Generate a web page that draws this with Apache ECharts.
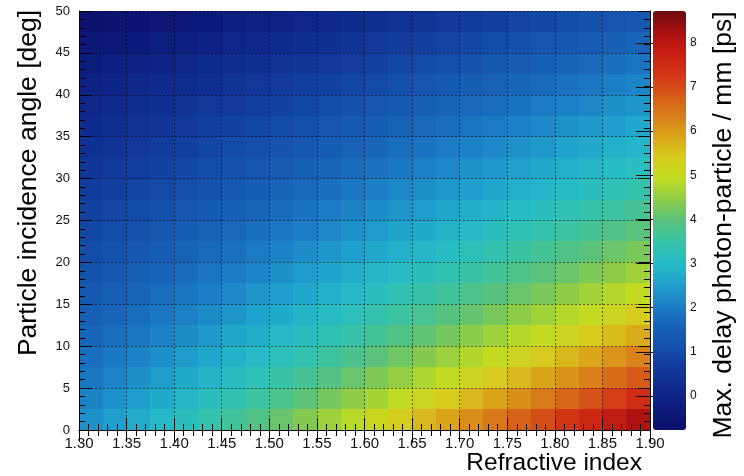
<!DOCTYPE html>
<html>
<head>
<meta charset="utf-8">
<script src="https://cdn.jsdelivr.net/npm/echarts@6/dist/echarts.min.js"></script>
<style>
  html, body { margin: 0; padding: 0; background: #fff; }
  #chart { width: 744px; height: 476px; }
</style>
</head>
<body>
<div id="chart"></div>
<script>
// Cell centres along the refractive-index axis (cells 0.025 wide)
const refractiveIndex = [
  1.3125, 1.3375, 1.3625, 1.3875, 1.4125, 1.4375, 1.4625, 1.4875,
  1.5125, 1.5375, 1.5625, 1.5875, 1.6125, 1.6375, 1.6625, 1.6875,
  1.7125, 1.7375, 1.7625, 1.7875, 1.8125, 1.8375, 1.8625, 1.8875
];

// Cell centres along the incidence-angle axis in degrees (cells 2.5 deg high)
const incidenceAngle = [
  1.25, 3.75, 6.25, 8.75, 11.25, 13.75, 16.25, 18.75, 21.25, 23.75,
  26.25, 28.75, 31.25, 33.75, 36.25, 38.75, 41.25, 43.75, 46.25, 48.75
];

// Max. photon-particle delay per mm [ps]; one row per incidence angle, bottom row first
const maxDelayPs = [
  [2.31, 2.52, 2.74, 2.96, 3.18, 3.41, 3.64, 3.87, 4.11, 4.36, 4.60, 4.85, 5.11, 5.36, 5.63, 5.89, 6.16, 6.43, 6.71, 6.99, 7.28, 7.56, 7.86, 8.15],
  [2.11, 2.31, 2.51, 2.71, 2.92, 3.13, 3.34, 3.56, 3.78, 4.00, 4.22, 4.45, 4.68, 4.92, 5.16, 5.40, 5.64, 5.89, 6.14, 6.39, 6.65, 6.91, 7.17, 7.44],
  [1.93, 2.12, 2.30, 2.49, 2.68, 2.87, 3.07, 3.27, 3.47, 3.68, 3.89, 4.10, 4.31, 4.52, 4.74, 4.96, 5.19, 5.41, 5.64, 5.87, 6.10, 6.34, 6.58, 6.82],
  [1.77, 1.94, 2.11, 2.28, 2.46, 2.64, 2.83, 3.01, 3.20, 3.39, 3.58, 3.77, 3.97, 4.17, 4.37, 4.57, 4.78, 4.99, 5.20, 5.41, 5.62, 5.84, 6.05, 6.27],
  [1.61, 1.77, 1.93, 2.10, 2.26, 2.43, 2.60, 2.77, 2.95, 3.12, 3.30, 3.48, 3.67, 3.85, 4.04, 4.22, 4.41, 4.60, 4.80, 4.99, 5.19, 5.39, 5.59, 5.79],
  [1.46, 1.61, 1.76, 1.92, 2.07, 2.23, 2.39, 2.55, 2.72, 2.88, 3.05, 3.22, 3.39, 3.56, 3.73, 3.91, 4.08, 4.26, 4.44, 4.62, 4.80, 4.99, 5.17, 5.36],
  [1.32, 1.46, 1.61, 1.75, 1.90, 2.04, 2.19, 2.35, 2.50, 2.65, 2.81, 2.97, 3.13, 3.29, 3.45, 3.61, 3.78, 3.94, 4.11, 4.28, 4.45, 4.62, 4.79, 4.97],
  [1.19, 1.32, 1.45, 1.59, 1.73, 1.87, 2.01, 2.15, 2.30, 2.44, 2.59, 2.74, 2.89, 3.04, 3.19, 3.34, 3.50, 3.65, 3.81, 3.97, 4.13, 4.29, 4.45, 4.61],
  [1.05, 1.18, 1.31, 1.44, 1.57, 1.70, 1.83, 1.97, 2.10, 2.24, 2.38, 2.52, 2.66, 2.80, 2.94, 3.09, 3.23, 3.38, 3.53, 3.68, 3.83, 3.98, 4.13, 4.28],
  [0.92, 1.04, 1.16, 1.29, 1.41, 1.53, 1.66, 1.79, 1.92, 2.05, 2.18, 2.31, 2.44, 2.58, 2.71, 2.85, 2.99, 3.13, 3.27, 3.41, 3.55, 3.69, 3.83, 3.97],
  [0.80, 0.91, 1.02, 1.14, 1.26, 1.37, 1.49, 1.61, 1.74, 1.86, 1.98, 2.11, 2.24, 2.36, 2.49, 2.62, 2.75, 2.88, 3.02, 3.15, 3.28, 3.42, 3.55, 3.69],
  [0.67, 0.77, 0.88, 0.99, 1.10, 1.21, 1.33, 1.44, 1.56, 1.68, 1.80, 1.92, 2.04, 2.16, 2.28, 2.40, 2.53, 2.65, 2.78, 2.90, 3.03, 3.16, 3.28, 3.41],
  [0.53, 0.63, 0.74, 0.84, 0.95, 1.06, 1.16, 1.27, 1.38, 1.50, 1.61, 1.72, 1.84, 1.95, 2.07, 2.19, 2.31, 2.42, 2.54, 2.66, 2.78, 2.91, 3.03, 3.15],
  [0.40, 0.49, 0.59, 0.69, 0.79, 0.89, 1.00, 1.10, 1.21, 1.32, 1.42, 1.53, 1.64, 1.75, 1.86, 1.98, 2.09, 2.20, 2.32, 2.43, 2.55, 2.66, 2.78, 2.89],
  [0.25, 0.34, 0.44, 0.53, 0.63, 0.73, 0.83, 0.93, 1.03, 1.13, 1.23, 1.34, 1.44, 1.55, 1.66, 1.76, 1.87, 1.98, 2.09, 2.20, 2.31, 2.42, 2.53, 2.64],
  [0.10, 0.19, 0.28, 0.37, 0.46, 0.56, 0.65, 0.75, 0.84, 0.94, 1.04, 1.14, 1.24, 1.34, 1.45, 1.55, 1.65, 1.76, 1.86, 1.97, 2.07, 2.18, 2.29, 2.39],
  [-0.06, 0.02, 0.11, 0.20, 0.28, 0.37, 0.47, 0.56, 0.65, 0.74, 0.84, 0.94, 1.03, 1.13, 1.23, 1.33, 1.43, 1.53, 1.63, 1.73, 1.83, 1.93, 2.04, 2.14],
  [-0.23, -0.15, -0.07, 0.01, 0.09, 0.18, 0.27, 0.36, 0.45, 0.54, 0.63, 0.72, 0.81, 0.91, 1.00, 1.10, 1.19, 1.29, 1.39, 1.48, 1.58, 1.68, 1.78, 1.88],
  [-0.42, -0.35, -0.27, -0.19, -0.11, -0.03, 0.06, 0.14, 0.23, 0.31, 0.40, 0.49, 0.58, 0.67, 0.76, 0.85, 0.95, 1.04, 1.13, 1.23, 1.32, 1.42, 1.51, 1.61],
  [-0.63, -0.56, -0.49, -0.41, -0.34, -0.26, -0.18, -0.10, -0.01, 0.07, 0.16, 0.24, 0.33, 0.41, 0.50, 0.59, 0.68, 0.77, 0.86, 0.95, 1.04, 1.14, 1.23, 1.32]
];

// Colour scale range [ps] and the labelled ticks of the palette axis
const delayRange = [-0.77, 8.72];
const delayTicks = [0, 1, 2, 3, 4, 5, 6, 7, 8];

// Palette, evenly spaced from the lowest to the highest delay
const paletteColors = [
  '#0b0f6a', '#0c1a7a', '#0e2a8c', '#113a9c', '#1550ac', '#1864b9', '#1c80c6',
  '#1fa2cc', '#26bcc6', '#38c3a6', '#5ac27a', '#8ecc48', '#c0dc22', '#d6cc1e',
  '#daa41a', '#d87e1a', '#d65a18', '#d23416', '#c81e12', '#a81010', '#6a0a0c'
];

const FONT = '"Liberation Sans", Arial, Helvetica, sans-serif';

const cells = [];
incidenceAngle.forEach((a, j) => {
  refractiveIndex.forEach((n, k) => cells.push([n, a, maxDelayPs[j][k]]));
});
const cellW = refractiveIndex[1] - refractiveIndex[0];
const cellH = incidenceAngle[1] - incidenceAngle[0];
const snap = v => Math.round(v * 1e6) / 1e6;

const tickCommon = {
  axisLine: { show: true, lineStyle: { color: '#000', width: 1 } },
  axisTick: { show: true, inside: true, length: 12, lineStyle: { color: '#000', width: 1 } },
  minorTick: { show: true, splitNumber: 5, length: 6, lineStyle: { color: '#000', width: 1 } },
  z: 5
};
const gridLine = { show: true, lineStyle: { type: [2, 2], color: 'rgba(0,0,0,0.55)', width: 1 } };

const chart = echarts.init(document.getElementById('chart'), null, { renderer: 'canvas' });
chart.setOption({
  animation: false,
  backgroundColor: '#fff',
  textStyle: { fontFamily: FONT },
  grid: [
    { left: 79, top: 11, width: 571, height: 419, containLabel: false },
    { left: 653, top: 11, width: 33, height: 419, containLabel: false }
  ],
  xAxis: [
    Object.assign({
      type: 'value', gridIndex: 0, position: 'bottom', min: 1.3, max: 1.9, interval: 0.05,
      axisLabel: { show: true, fontSize: 15, color: '#111', margin: 6, fontFamily: FONT,
        showMinLabel: true, showMaxLabel: true, formatter: v => v.toFixed(2) },
      splitLine: gridLine
    }, tickCommon),
    Object.assign({
      type: 'value', gridIndex: 0, position: 'top', min: 1.3, max: 1.9, interval: 0.05,
      axisLabel: { show: false }, splitLine: { show: false }
    }, tickCommon),
    { type: 'value', gridIndex: 1, show: false, min: 0, max: 1 }
  ],
  yAxis: [
    Object.assign({
      type: 'value', gridIndex: 0, position: 'left', min: 0, max: 50, interval: 5,
      axisLabel: { show: true, fontSize: 13, color: '#111', margin: 9, fontFamily: FONT,
        showMinLabel: true, showMaxLabel: true },
      splitLine: gridLine
    }, tickCommon),
    Object.assign({
      type: 'value', gridIndex: 0, position: 'right', min: 0, max: 50, interval: 5,
      axisLabel: { show: false }, splitLine: { show: false }
    }, tickCommon),
    {
      type: 'value', gridIndex: 1, position: 'right', min: delayRange[0], max: delayRange[1],
      z: 8,
      axisLine: { show: false },
      axisTick: { show: true, inside: true, length: 17, customValues: delayTicks,
        lineStyle: { color: '#111', width: 1 } },
      axisLabel: { show: true, customValues: delayTicks, fontSize: 12, color: '#111',
        margin: 4, fontFamily: FONT },
      splitLine: { show: false }
    }
  ],
  visualMap: {
    type: 'continuous',
    seriesIndex: 0,
    dimension: 2,
    min: delayRange[0],
    max: delayRange[1],
    calculable: false,
    hoverLink: false,
    orient: 'vertical',
    left: 653,
    top: 11,
    padding: 0,
    itemWidth: 33,
    itemHeight: 419,
    inRange: { color: paletteColors }
  },
  series: [{
    type: 'custom',
    coordinateSystem: 'cartesian2d',
    xAxisIndex: 0,
    yAxisIndex: 0,
    clip: true,
    data: cells,
    encode: { x: 0, y: 1 },
    renderItem: function (params, api) {
      const n = api.value(0), a = api.value(1);
      const p0 = api.coord([snap(n - cellW / 2), snap(a + cellH / 2)]);
      const p1 = api.coord([snap(n + cellW / 2), snap(a - cellH / 2)]);
      const x0 = Math.round(p0[0] + 1e-6), y0 = Math.round(p0[1] + 1e-6);
      const x1 = Math.round(p1[0] + 1e-6), y1 = Math.round(p1[1] + 1e-6);
      return {
        type: 'rect',
        shape: { x: x0, y: y0, width: x1 - x0, height: y1 - y0 },
        style: { fill: api.visual('color') }
      };
    }
  }],
  graphic: [
    { type: 'text', x: 642, y: 463, z: 10,
      style: { text: 'Refractive index', fontSize: 24.5, fontFamily: FONT, fill: '#000',
        textAlign: 'right', textVerticalAlign: 'middle', verticalAlign: 'middle' } },
    { type: 'text', x: 29, y: 183, rotation: Math.PI / 2, z: 10,
      style: { text: 'Particle incidence angle [deg]', fontSize: 26.5, fontFamily: FONT, fill: '#000',
        textAlign: 'center', textVerticalAlign: 'middle', verticalAlign: 'middle' } },
    { type: 'text', x: 724, y: 225, rotation: Math.PI / 2, z: 10,
      style: { text: 'Max. delay photon-particle / mm [ps]', fontSize: 26.5, fontFamily: FONT, fill: '#000',
        textAlign: 'center', textVerticalAlign: 'middle', verticalAlign: 'middle' } }
  ]
});
</script>
</body>
</html>
